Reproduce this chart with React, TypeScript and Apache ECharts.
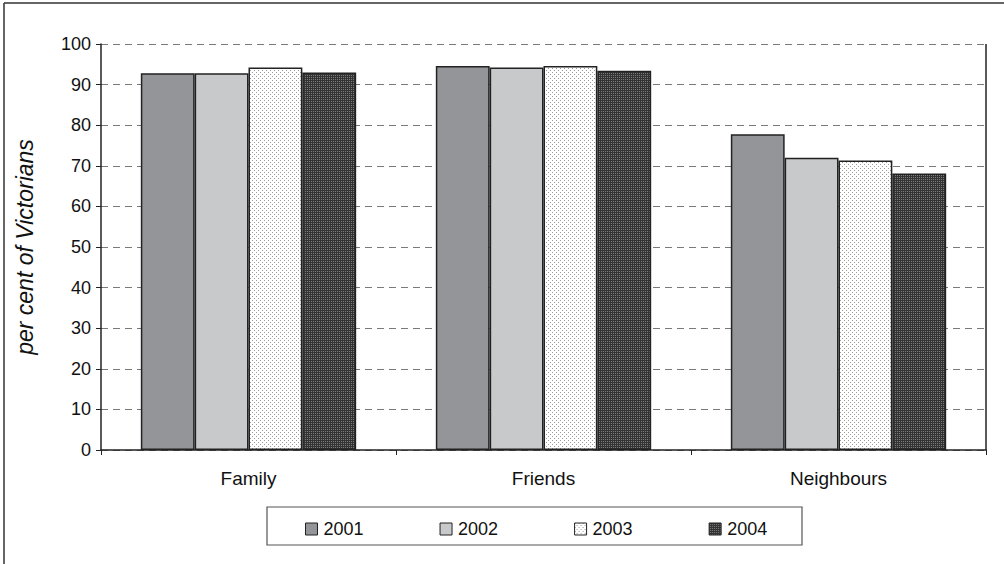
import React, { useEffect, useRef } from "react";
import * as echarts from "echarts";

const categories = ["Family", "Friends", "Neighbours"];
const seriesNames = ["2001", "2002", "2003", "2004"];
const values2001 = [92.8, 94.6, 77.8];
const values2002 = [92.8, 94.2, 72.0];
const values2003 = [94.2, 94.6, 71.3];
const values2004 = [93.0, 93.4, 68.1];
const yTicks = [0, 10, 20, 30, 40, 50, 60, 70, 80, 90, 100];

function makePattern(bg: string, fg: string, dots: number[][], size: number): string {
  const c = document.createElement("canvas");
  c.width = size;
  c.height = size;
  const ctx = c.getContext("2d")!;
  ctx.fillStyle = bg;
  ctx.fillRect(0, 0, size, size);
  ctx.fillStyle = fg;
  dots.forEach(([x, y]) => ctx.fillRect(x, y, 1, 1));
  return c.toDataURL();
}

export default function App() {
  const ref = useRef<HTMLDivElement>(null);
  useEffect(() => {
    if (!ref.current) return;
    const chart = echarts.init(ref.current, undefined, { renderer: "svg" });
    const dotted = makePattern("#ffffff", "#9a9a9a", [[0, 0], [2, 2]], 4);
    const dark = makePattern("#333333", "#7c7c7c", [[1, 1], [3, 3], [1, 3], [3, 1]], 4);
    const fills: any[] = [
      "#939598",
      "#c8c9cb",
      { image: dotted, repeat: "repeat" },
      { image: dark, repeat: "repeat" },
    ];
    const data = [values2001, values2002, values2003, values2004];
    const font = "Liberation Sans, Arial, sans-serif";
    chart.setOption({
      animation: false,
      backgroundColor: "#ffffff",
      textStyle: { fontFamily: font },
      grid: { left: 101, top: 44, right: 18, bottom: 114, show: true, borderColor: "transparent" },
      legend: {
        data: seriesNames,
        left: 300,
        top: 515,
        icon: "rect",
        itemWidth: 12,
        itemHeight: 12,
        itemGap: 76,
        textStyle: { fontSize: 18, color: "#111", fontFamily: font, padding: [0, 0, 0, 1] },
        itemStyle: { borderColor: "#222", borderWidth: 1 },
      },
      xAxis: {
        type: "category",
        data: categories,
        axisLine: { show: true, lineStyle: { color: "#222", width: 1.5 } },
        axisTick: { show: true, length: 5, alignWithLabel: false, lineStyle: { color: "#222" } },
        axisLabel: { fontSize: 19, color: "#111", margin: 19, fontFamily: font },
      },
      yAxis: {
        type: "value",
        min: 0,
        max: 100,
        interval: 10,
        name: "per cent of Victorians",
        nameLocation: "middle",
        nameGap: 65,
        nameTextStyle: { fontSize: 23, fontStyle: "italic", color: "#111", fontFamily: font },
        axisLine: { show: true, lineStyle: { color: "#222", width: 1.5 } },
        axisTick: { show: true, length: 5, lineStyle: { color: "#222" } },
        axisLabel: {
          fontSize: 18,
          color: "#111",
          margin: 10,
          fontFamily: font,
          formatter: (v: number) => (yTicks.includes(v) ? String(v) : ""),
        },
        splitLine: { show: true, lineStyle: { color: "#7a7a7a", type: [7, 5], width: 1.2 } },
      },
      series: seriesNames.map((name, i) => ({
        name,
        type: "bar",
        data: data[i],
        barGap: "0%",
        barCategoryGap: "27%",
        itemStyle: { color: fills[i], borderColor: "#222", borderWidth: 1.5 },
      })),
      graphic: [
        { type: "line", shape: { x1: 4, y1: 3, x2: 1004, y2: 3 }, style: { stroke: "#333", lineWidth: 1.5 } },
        { type: "line", shape: { x1: 4, y1: 3, x2: 4, y2: 564 }, style: { stroke: "#333", lineWidth: 1.5 } },
        { type: "line", shape: { x1: 986, y1: 44, x2: 986, y2: 450 }, style: { stroke: "#222", lineWidth: 1.5 } },
        {
          type: "rect",
          shape: { x: 267, y: 507, width: 535, height: 38 },
          style: { fill: "none", stroke: "#555", lineWidth: 1.2 },
          z: -1,
        },
      ],
    });
    return () => chart.dispose();
  }, []);
  return (
    <div
      ref={ref}
      style={{ position: "fixed", left: 0, top: 0, width: 1004, height: 564, background: "#fff" }}
    />
  );
}
